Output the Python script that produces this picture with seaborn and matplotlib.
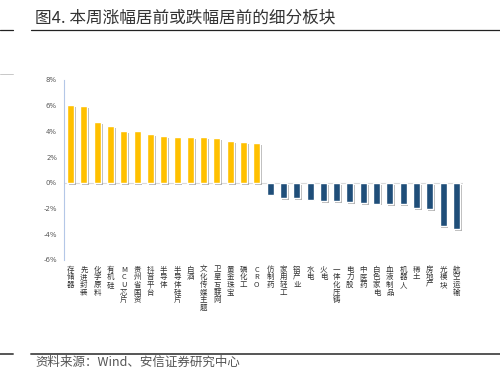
import matplotlib
matplotlib.use("Agg")
import matplotlib.pyplot as plt
import matplotlib.patheffects as pe
from matplotlib.lines import Line2D
import seaborn as sns
import pandas as pd

categories = ["存储器", "先进封装", "化学原料", "有机硅", "MCU芯片", "贵州省国资", "抖音平台",
              "半导体", "半导体硅片", "白酒", "文化传媒主题", "卫星互联网", "黄金珠宝", "磷化工", "CRO",
              "仿制药", "家用轻工", "铝产业", "水电", "火电", "一体化压铸", "电力股", "中医药",
              "白色家电", "血液制品", "机器人", "稀土", "房地产", "光模块", "航空运输"]
values = [6.06, 5.94, 4.72, 4.44, 4.05, 4.05, 3.79, 3.64, 3.59, 3.54, 3.54, 3.48, 3.23, 3.15, 3.10,
          -0.91, -1.17, -1.22, -1.30, -1.43, -1.43, -1.50, -1.56, -1.61, -1.63, -1.64, -1.95, -2.02,
          -3.37, -3.63]
yticks = [-6, -4, -2, 0, 2, 4, 6, 8]
title = "图4. 本周涨幅居前或跌幅居前的细分板块"
source = "资料来源：Wind、安信证券研究中心"

sns.set_style("white")
plt.rcParams['font.family'] = ['Noto Sans CJK SC', 'DejaVu Sans']

df = pd.DataFrame({"cat": categories, "val": values})
df["grp"] = ["up" if v > 0 else "down" for v in values]

fig = plt.figure(figsize=(5.0, 3.88), dpi=100)
ax = fig.add_axes([0.128, 0.330, 0.798, 0.464])

sns.barplot(data=df, x="cat", y="val", hue="grp", palette={"up": "#FFC000", "down": "#1F4E79"},
            dodge=False, width=0.52, legend=False, ax=ax, saturation=1)
for p in ax.patches:
    p.set_path_effects([pe.SimplePatchShadow(offset=(1.3, -1.3), shadow_rgbFace="#7f7f7f", alpha=0.6),
                        pe.Normal()])

ax.set_xlim(-0.5, len(categories) - 0.5)
ax.set_ylim(-6, 8)
ax.set_yticks(yticks)
ax.set_yticklabels([f"{t}%" for t in yticks], fontsize=5, color="#595959", family="DejaVu Sans")
ax.set_xticks(range(len(categories)))
ax.set_xticklabels(["\n".join(c) for c in categories], fontsize=5.4, color="#333333",
                   linespacing=0.95, va="top")
ax.tick_params(axis="both", length=0)
ax.tick_params(axis="x", pad=4)
ax.tick_params(axis="y", pad=5)
ax.set_xlabel("")
ax.set_ylabel("")
for s in ["top", "right", "bottom"]:
    ax.spines[s].set_visible(False)
ax.spines["left"].set_color("#b4c7e7")
ax.spines["left"].set_linewidth(0.8)
ax.axhline(0, color="#d9d9d9", lw=0.8, zorder=0)

fig.text(0.07, 0.953, title, fontsize=12, color="#333333", va="center", ha="left", fontweight="medium")
fig.add_artist(Line2D([0.0, 0.026], [0.922, 0.922], color="#222222", lw=0.9))
fig.add_artist(Line2D([0.062, 1.0], [0.922, 0.922], color="#222222", lw=0.9))
fig.add_artist(Line2D([0.0, 0.026], [0.809, 0.809], color="#bfbfbf", lw=0.6))
fig.add_artist(Line2D([0.0, 0.026], [0.088, 0.088], color="#555555", lw=1.4))
fig.add_artist(Line2D([0.062, 1.0], [0.088, 0.088], color="#555555", lw=1.4))
fig.text(0.07, 0.067, source, fontsize=9, color="#555555", va="center", ha="left", style="italic")

fig.savefig("out.png", dpi=100)
